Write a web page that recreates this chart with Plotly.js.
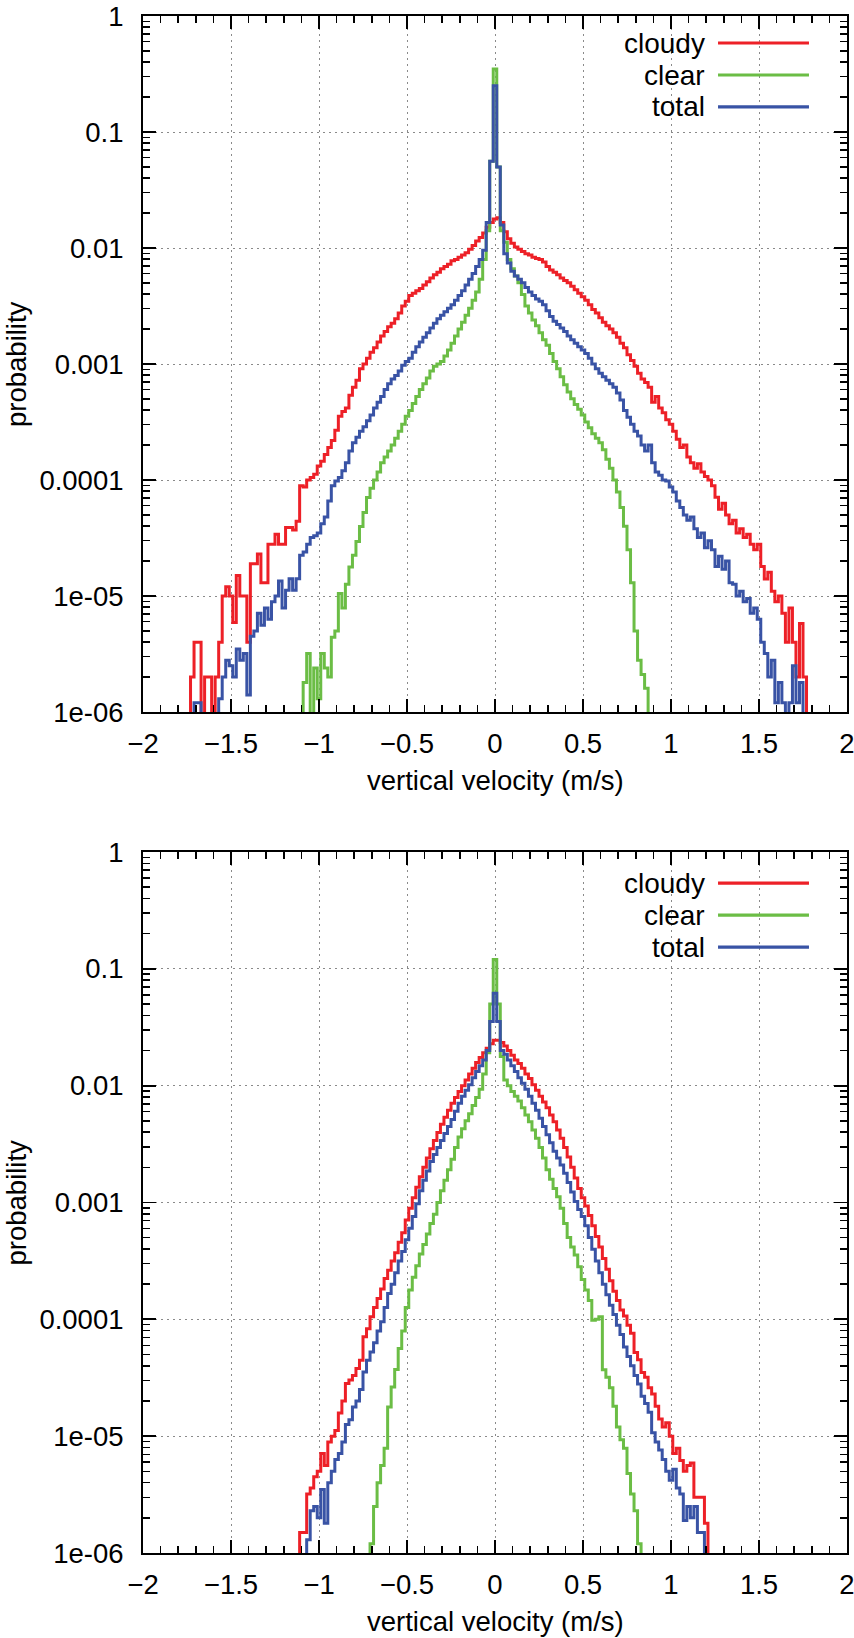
<!DOCTYPE html>
<html>
<head>
<meta charset="utf-8">
<script src="https://cdn.plot.ly/plotly-3.0.1.min.js"></script>
<style>
  html, body { margin: 0; padding: 0; background: #fff; }
  #chart { width: 854px; height: 1638px; }
</style>
</head>
<body>
<div id="chart"></div>
<script>
// ---------------- data (probability per 0.02 m/s bin; 0 = empty bin) ----------------
const binWidth = 0.02;
const seriesNames = ['cloudy', 'clear', 'total'];
const yTickVals = [1e-6, 1e-5, 1e-4, 1e-3, 1e-2, 1e-1, 1];
const yTickText = ['1e-06', '1e-05', '0.0001', '0.001', '0.01', '0.1', '1'];
const xTickVals = [-2, -1.5, -1, -0.5, 0, 0.5, 1, 1.5, 2];
const xTitle = 'vertical velocity (m/s)';
const yTitle = 'probability';

// upper panel
const cloudyTopStart = -1.72;
const cloudyTop = [
 2e-6,4e-6,4e-6,0,2e-6,2e-6,0,2e-6,4e-6,1e-5,
 1.2e-5,1e-5,5.9e-6,1.5e-5,1e-5,1e-5,4e-6,1.9e-5,1.9e-5,2.3e-5,
 1.3e-5,1.3e-5,2.8e-5,2.8e-5,3.4e-5,2.8e-5,2.8e-5,3.9e-5,3.9e-5,3.7e-5,
 4.4e-5,8.9e-5,8.7e-5,1e-4,1.05e-4,1.12e-4,1.32e-4,1.45e-4,1.66e-4,1.91e-4,
 2.19e-4,2.69e-4,3.55e-4,3.89e-4,4.17e-4,5.37e-4,6.31e-4,7.24e-4,9.12e-4,1e-3,
 1.12e-3,1.26e-3,1.38e-3,1.55e-3,1.74e-3,1.91e-3,2.09e-3,2.24e-3,2.45e-3,2.75e-3,
 3.16e-3,3.47e-3,3.89e-3,4.07e-3,4.27e-3,4.47e-3,4.79e-3,5.13e-3,5.5e-3,5.89e-3,
 6.17e-3,6.61e-3,6.92e-3,7.24e-3,7.76e-3,7.94e-3,8.32e-3,8.71e-3,9.12e-3,9.77e-3,
 1.05e-2,1.15e-2,1.23e-2,1.35e-2,1.51e-2,1.66e-2,1.78e-2,1.82e-2,1.66e-2,1.38e-2,
 1.2e-2,1.1e-2,1.02e-2,9.77e-3,9.33e-3,8.91e-3,8.71e-3,8.32e-3,8.13e-3,7.94e-3,
 7.59e-3,6.92e-3,6.46e-3,6.17e-3,5.89e-3,5.5e-3,5.25e-3,5.01e-3,4.68e-3,4.37e-3,
 4.07e-3,3.8e-3,3.55e-3,3.24e-3,2.95e-3,2.75e-3,2.51e-3,2.29e-3,2.14e-3,2e-3,
 1.86e-3,1.7e-3,1.51e-3,1.38e-3,1.2e-3,1.07e-3,9.55e-4,8.32e-4,7.41e-4,6.92e-4,
 6.31e-4,4.68e-4,5.25e-4,4.17e-4,3.8e-4,3.31e-4,3.02e-4,2.63e-4,2.24e-4,1.91e-4,
 2e-4,1.58e-4,1.41e-4,1.26e-4,1.38e-4,1.17e-4,1.07e-4,1e-4,8.9e-5,7.1e-5,
 5.6e-5,6.3e-5,5e-5,4.2e-5,4.5e-5,3.5e-5,3.8e-5,3.2e-5,3.4e-5,2.8e-5,
 2.5e-5,2.8e-5,1.8e-5,1.4e-5,1.6e-5,1.1e-5,8.9e-6,1e-5,7.1e-6,4e-6,
 7.9e-6,4e-6,2e-6,5.8e-6,2e-6
];
const clearTopStart = -1.08;
const clearTop = [
 1.8e-6,3.2e-6,0,2.4e-6,1.3e-6,3.2e-6,2.4e-6,2e-6,4.4e-6,5e-6,
 1.05e-5,7.9e-6,1.26e-5,1.78e-5,2.24e-5,2.95e-5,3.98e-5,5.25e-5,7.08e-5,8.51e-5,
 1e-4,1.17e-4,1.41e-4,1.58e-4,1.78e-4,2e-4,2.29e-4,2.63e-4,3.02e-4,3.55e-4,
 3.98e-4,4.57e-4,5.25e-4,6.03e-4,6.76e-4,7.59e-4,8.71e-4,9.55e-4,1e-3,1.05e-3,
 1.17e-3,1.32e-3,1.51e-3,1.74e-3,2e-3,2.29e-3,2.63e-3,3.02e-3,3.55e-3,4.17e-3,
 5.37e-3,7.94e-3,1.41e-2,5.6e-2,0.35,5e-2,1.41e-2,1.12e-2,7.94e-3,6.61e-3,
 5.75e-3,5.01e-3,3.98e-3,3.16e-3,2.75e-3,2.4e-3,2.14e-3,1.86e-3,1.62e-3,1.45e-3,
 1.23e-3,1.05e-3,9.12e-4,7.76e-4,6.61e-4,5.75e-4,5.01e-4,4.47e-4,4.07e-4,3.63e-4,
 3.16e-4,2.82e-4,2.51e-4,2.29e-4,2.09e-4,1.82e-4,1.51e-4,1.26e-4,1e-4,7.9e-5,
 5.8e-5,4e-5,2.5e-5,1.3e-5,5e-6,2.8e-6,2.1e-6,1.6e-6
];
const totalTopStart = -1.70;
const totalTop = [
 1.2e-6,1.2e-6,0,0,0,0,0,1.3e-6,2e-6,2.8e-6,
 2.5e-6,2e-6,3.5e-6,2.8e-6,3.2e-6,1.4e-6,4.5e-6,5e-6,7.1e-6,5.6e-6,
 7.9e-6,6.3e-6,8.9e-6,1e-5,1.35e-5,7.9e-6,1.12e-5,1.41e-5,1.12e-5,1.41e-5,
 2.24e-5,2.4e-5,2.8e-5,3.2e-5,3.3e-5,3.5e-5,4.2e-5,4.8e-5,6.6e-5,8.9e-5,
 9.8e-5,1.05e-4,1.2e-4,1.41e-4,1.78e-4,2.09e-4,2.34e-4,2.63e-4,2.88e-4,3.24e-4,
 3.63e-4,4.17e-4,4.68e-4,5.25e-4,6.03e-4,6.76e-4,7.41e-4,7.94e-4,8.71e-4,9.77e-4,
 1.05e-3,1.12e-3,1.26e-3,1.41e-3,1.55e-3,1.7e-3,1.86e-3,2.04e-3,2.24e-3,2.45e-3,
 2.63e-3,2.82e-3,3.02e-3,3.24e-3,3.55e-3,3.89e-3,4.27e-3,4.79e-3,5.37e-3,6.03e-3,
 6.92e-3,7.94e-3,9.55e-3,1.66e-2,5.6e-2,0.25,5e-2,1.58e-2,8.91e-3,7.41e-3,
 6.31e-3,5.75e-3,5.37e-3,5.01e-3,4.57e-3,4.17e-3,3.89e-3,3.63e-3,3.47e-3,3.24e-3,
 2.88e-3,2.57e-3,2.34e-3,2.19e-3,2.04e-3,1.91e-3,1.74e-3,1.62e-3,1.51e-3,1.41e-3,
 1.32e-3,1.23e-3,1.12e-3,1e-3,9.12e-4,8.32e-4,7.76e-4,7.24e-4,6.76e-4,6.31e-4,
 5.62e-4,4.9e-4,3.98e-4,3.47e-4,3.02e-4,2.63e-4,2.4e-4,2e-4,1.78e-4,2e-4,
 1.41e-4,1.17e-4,1.1e-4,1e-4,9.8e-5,8.7e-5,7.9e-5,6.6e-5,5.8e-5,5e-5,
 4.5e-5,4.8e-5,3.8e-5,3.2e-5,3.5e-5,2.6e-5,3e-5,2.5e-5,1.8e-5,2.2e-5,
 1.7e-5,2e-5,1.3e-5,1.26e-5,1e-5,1.1e-5,8.9e-6,9.5e-6,7.1e-6,7.9e-6,
 6.3e-6,4e-6,3.2e-6,2e-6,2.8e-6,1.2e-6,1.8e-6,1.2e-6,0,1.2e-6,
 2.5e-6,1.2e-6,1.8e-6
];

// lower panel
const cloudyBotStart = -1.10;
const cloudyBot = [
 1.5e-6,1.5e-6,3.2e-6,3.6e-6,4.5e-6,5e-6,7.1e-6,5.6e-6,8.9e-6,1e-5,
 1.12e-5,1.58e-5,2e-5,2.82e-5,3.02e-5,3.31e-5,3.8e-5,4.47e-5,7.08e-5,8.32e-5,
 1.05e-4,1.26e-4,1.51e-4,1.82e-4,2.24e-4,2.63e-4,3.16e-4,3.72e-4,4.57e-4,5.5e-4,
 7.08e-4,8.91e-4,1.1e-3,1.35e-3,1.66e-3,2e-3,2.4e-3,2.88e-3,3.39e-3,3.98e-3,
 4.68e-3,5.37e-3,6.17e-3,7.08e-3,7.94e-3,8.91e-3,1e-2,1.12e-2,1.26e-2,1.41e-2,
 1.58e-2,1.74e-2,1.91e-2,2.09e-2,2.29e-2,2.45e-2,2.45e-2,2.34e-2,2.19e-2,2e-2,
 1.82e-2,1.66e-2,1.55e-2,1.41e-2,1.26e-2,1.15e-2,1.02e-2,9.12e-3,8.13e-3,7.24e-3,
 6.46e-3,5.62e-3,4.9e-3,4.17e-3,3.55e-3,2.95e-3,2.45e-3,2e-3,1.62e-3,1.32e-3,
 1.1e-3,9.33e-4,7.76e-4,6.31e-4,5.13e-4,4.17e-4,3.31e-4,2.69e-4,2.14e-4,1.74e-4,
 1.45e-4,1.2e-4,1.07e-4,8.9e-5,7.6e-5,5.2e-5,4.5e-5,3.5e-5,3.2e-5,2.6e-5,
 2.3e-5,1.8e-5,1.4e-5,1.2e-5,1.3e-5,1e-5,7.1e-6,7.9e-6,6.2e-6,5e-6,
 5.6e-6,5.9e-6,3e-6,3e-6,3e-6,1.8e-6
];
const clearBotStart = -0.70;
const clearBot = [
 1.2e-6,2.5e-6,4e-6,5.6e-6,7.9e-6,1.78e-5,2.63e-5,3.72e-5,5.62e-5,7.94e-5,
 1.26e-4,1.78e-4,2.29e-4,2.88e-4,3.63e-4,4.37e-4,5.37e-4,6.61e-4,7.94e-4,1e-3,
 1.26e-3,1.55e-3,1.91e-3,2.34e-3,2.95e-3,3.63e-3,4.27e-3,5.01e-3,5.75e-3,6.76e-3,
 7.94e-3,9.33e-3,1.26e-2,1.91e-2,5e-2,0.12,5e-2,1.78e-2,1.12e-2,1e-2,
 8.91e-3,8.13e-3,7.41e-3,6.46e-3,5.62e-3,4.9e-3,4.17e-3,3.55e-3,2.95e-3,2.4e-3,
 1.91e-3,1.58e-3,1.32e-3,1.12e-3,8.91e-4,6.61e-4,5.01e-4,4.17e-4,3.55e-4,2.82e-4,
 2.19e-4,1.78e-4,1.45e-4,9.8e-5,1e-4,1.05e-4,3.7e-5,3.2e-5,2.6e-5,1.8e-5,
 1.2e-5,9.3e-6,7.9e-6,4.8e-6,3.2e-6,2.3e-6,1.2e-6
];
const totalBotStart = -1.06;
const totalBot = [
 1.3e-6,2.3e-6,2.5e-6,2e-6,3.5e-6,1.8e-6,4e-6,5e-6,6.3e-6,7.1e-6,
 8.9e-6,1.26e-5,1.38e-5,1.78e-5,2e-5,2.51e-5,3.55e-5,4.47e-5,5.25e-5,6.31e-5,
 7.94e-5,9.55e-5,1.26e-4,1.66e-4,2e-4,2.51e-4,3.16e-4,3.8e-4,4.79e-4,6.03e-4,
 7.59e-4,9.77e-4,1.26e-3,1.55e-3,1.86e-3,2.24e-3,2.57e-3,2.95e-3,3.39e-3,3.89e-3,
 4.47e-3,5.13e-3,6.03e-3,7.08e-3,8.13e-3,9.12e-3,1.02e-2,1.17e-2,1.32e-2,1.48e-2,
 1.66e-2,2e-2,3.55e-2,6.17e-2,3.55e-2,2e-2,1.86e-2,1.66e-2,1.48e-2,1.32e-2,
 1.17e-2,1.05e-2,9.33e-3,8.13e-3,7.08e-3,6.17e-3,5.25e-3,4.47e-3,3.8e-3,3.24e-3,
 2.75e-3,2.4e-3,2.09e-3,1.78e-3,1.48e-3,1.23e-3,1.02e-3,8.71e-4,7.59e-4,6.31e-4,
 5.01e-4,3.98e-4,3.16e-4,2.51e-4,2e-4,1.62e-4,1.32e-4,1.1e-4,8.9e-5,7.4e-5,
 5.8e-5,4.8e-5,4e-5,3.3e-5,2.8e-5,2.2e-5,1.9e-5,1.6e-5,1.07e-5,8.9e-6,
 7.6e-6,6.3e-6,5e-6,4.2e-6,5.2e-6,3.6e-6,3.2e-6,1.9e-6,2.5e-6,2e-6,
 2.5e-6,1.5e-6,1.5e-6
];

// ---------------- styling ----------------
const colors = { cloudy: '#ed2027', clear: '#6bbd45', total: '#3953a5' };
const FONT = 'Liberation Sans, Arial, Helvetica, sans-serif';
const FLOOR = 1e-9; // empty bins are drawn below the axis floor

function stepTrace(name, start, values, xa, ya) {
  const x = [], y = [];
  x.push(+(start - binWidth).toFixed(2)); y.push(FLOOR);
  values.forEach((v, i) => { x.push(+(start + i * binWidth).toFixed(2)); y.push(v > 0 ? v : FLOOR); });
  x.push(+(start + values.length * binWidth).toFixed(2)); y.push(FLOOR);
  return {
    type: 'scatter', mode: 'lines', name: name, x: x, y: y,
    xaxis: xa, yaxis: ya, showlegend: false,
    line: { color: colors[name], width: 3, shape: 'hvh' },
    hoverinfo: 'x+y+name'
  };
}

const traces = [
  stepTrace('cloudy', cloudyTopStart, cloudyTop, 'x', 'y'),
  stepTrace('clear', clearTopStart, clearTop, 'x', 'y'),
  stepTrace('total', totalTopStart, totalTop, 'x', 'y'),
  stepTrace('cloudy', cloudyBotStart, cloudyBot, 'x2', 'y2'),
  stepTrace('clear', clearBotStart, clearBot, 'x2', 'y2'),
  stepTrace('total', totalBotStart, totalBot, 'x2', 'y2')
];

const minorY = [];
for (let e = -6; e < 0; e++) for (let k = 2; k <= 9; k++) minorY.push(k * Math.pow(10, e));

function xAxis(anchor) {
  return {
    anchor: anchor, domain: [0, 1], range: [-2, 2],
    tickmode: 'array', tickvals: xTickVals,
    ticks: 'inside', ticklen: 13, tickwidth: 1.8, tickcolor: '#000',
    showline: true, linewidth: 2, linecolor: '#000', mirror: 'allticks',
    showgrid: true, gridcolor: '#8a8a8a', gridwidth: 1, griddash: '2px,4px',
    zeroline: false,
    minor: { tick0: 0, dtick: 0.1, ticks: 'inside', ticklen: 7, tickwidth: 1.5, tickcolor: '#000', showgrid: false },
    tickfont: { family: FONT, size: 27.5, color: '#000' },
    ticklabelstandoff: 6,
    ticklabeloverflow: 'allow',
    automargin: false
  };
}
function yAxis(anchor, domain) {
  return {
    anchor: anchor, domain: domain, type: 'log', range: [-6, 0],
    tickmode: 'array', tickvals: yTickVals, ticktext: yTickText,
    ticks: 'inside', ticklen: 13, tickwidth: 1.8, tickcolor: '#000',
    showline: true, linewidth: 2, linecolor: '#000', mirror: 'allticks',
    showgrid: true, gridcolor: '#8a8a8a', gridwidth: 1, griddash: '2px,4px',
    zeroline: false,
    minor: { tickmode: 'array', tickvals: minorY, ticks: 'inside', ticklen: 7, tickwidth: 1.5, tickcolor: '#000', showgrid: false },
    tickfont: { family: FONT, size: 27.5, color: '#000' },
    ticklabelstandoff: 12,
    ticklabeloverflow: 'allow',
    automargin: false
  };
}

// legend drawn as text on the left, line sample on the right (as in the original)
const annotations = [], shapes = [];
const panels = [
  { xa: 'x', ya: 'y', rows: [0.9612, 0.9152, 0.8693], xTitleY: -0.0991 },
  { xa: 'x2', ya: 'y2', rows: [0.9557, 0.91, 0.8643], xTitleY: -0.0971 }
];
panels.forEach(p => {
  seriesNames.forEach((nm, i) => {
    annotations.push({
      xref: p.xa + ' domain', yref: p.ya + ' domain', x: 0.801, y: p.rows[i],
      xanchor: 'right', yanchor: 'middle', showarrow: false, text: nm,
      font: { family: FONT, size: 28, color: '#000' }
    });
    shapes.push({
      type: 'line', xref: p.xa + ' domain', yref: p.ya + ' domain',
      x0: 0.8168, x1: 0.946, y0: p.rows[i], y1: p.rows[i],
      line: { color: colors[nm], width: 3.2 }
    });
  });
  // axis titles
  annotations.push({
    xref: p.xa + ' domain', yref: p.ya + ' domain', x: 0.5, y: p.xTitleY,
    xanchor: 'center', yanchor: 'middle', showarrow: false, text: xTitle,
    font: { family: FONT, size: 27.5, color: '#000' }
  });
  annotations.push({
    xref: p.xa + ' domain', yref: p.ya + ' domain', x: -0.179, y: 0.5,
    xanchor: 'center', yanchor: 'middle', showarrow: false, text: yTitle, textangle: -90,
    font: { family: FONT, size: 27.5, color: '#000' }
  });
});

const layout = {
  width: 854, height: 1638,
  margin: { l: 143, r: 7, t: 16, b: 85, pad: 0 },
  paper_bgcolor: '#fff', plot_bgcolor: '#fff',
  showlegend: false,
  xaxis: xAxis('y'),
  yaxis: yAxis('x', [0.54717, 1]),
  xaxis2: xAxis('y2'),
  yaxis2: yAxis('x2', [0, 0.45608]),
  annotations: annotations,
  shapes: shapes,
  font: { family: FONT, color: '#000' }
};

Plotly.newPlot('chart', traces, layout, { displayModeBar: false, staticPlot: true });
</script>
</body>
</html>
